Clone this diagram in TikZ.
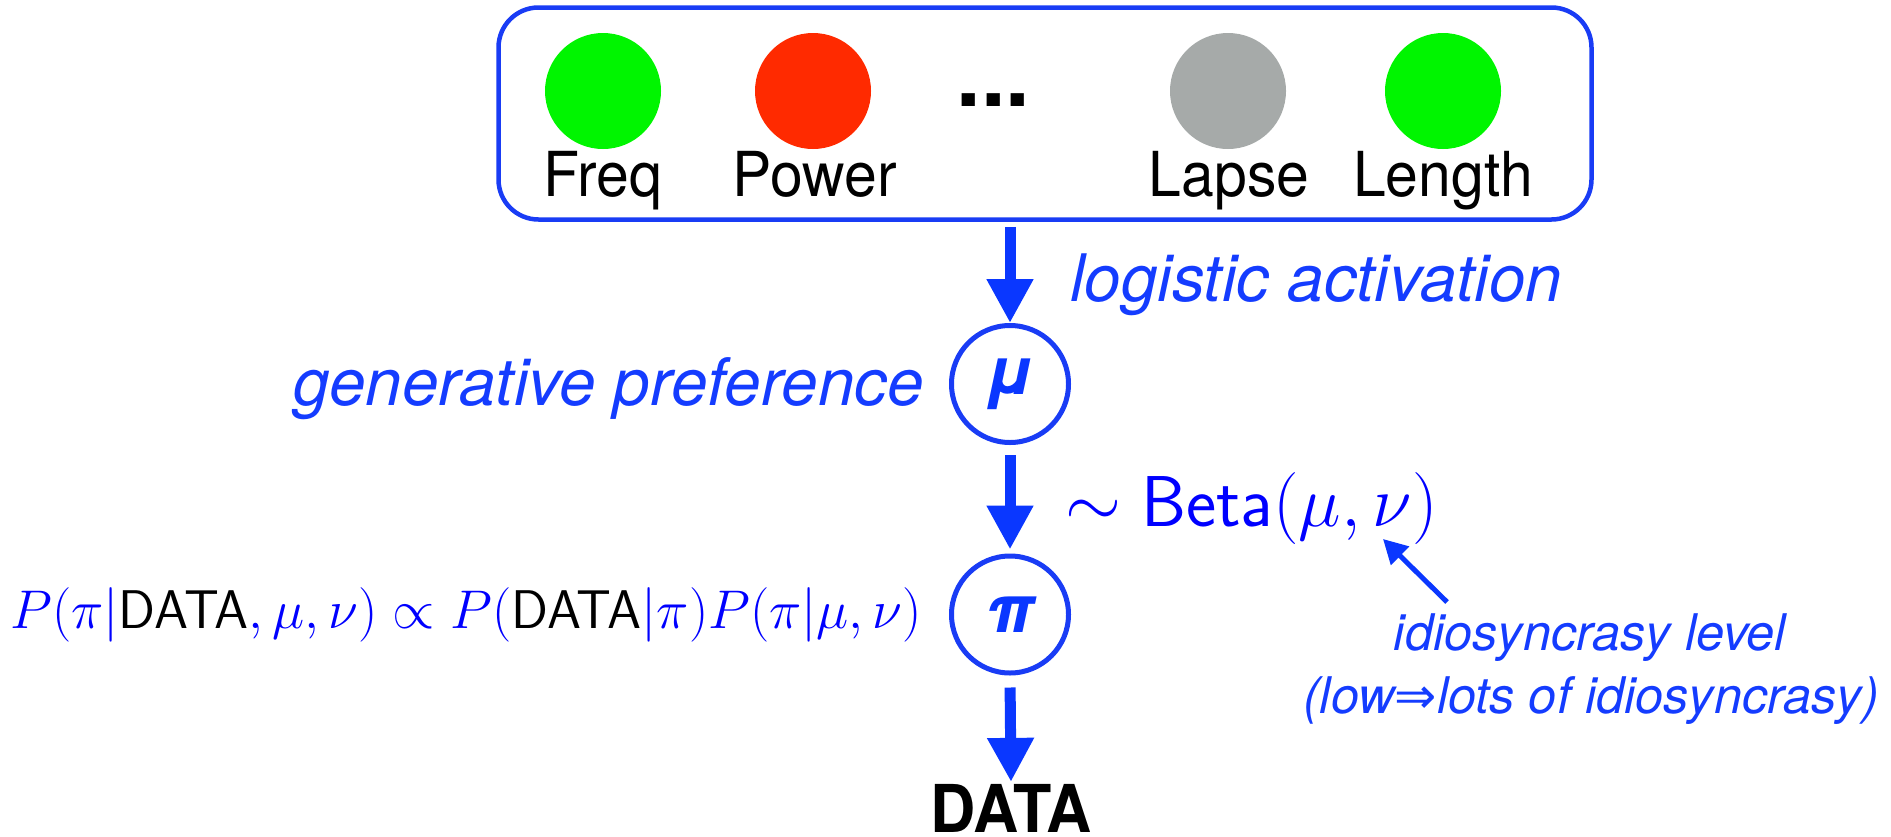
\RequirePackage{fix-cm}
\documentclass[tikz,border=0pt]{standalone}
\usepackage{fontspec}
\usetikzlibrary{arrows.meta}
\newfontfamily\helv{TeX Gyre Heros}
\newfontfamily\helvn{TeX Gyre Heros}[FakeStretch=0.95]
\newfontfamily\djv{DejaVu Sans}
\definecolor{ablue}{RGB}{10,55,255}
\definecolor{tblue}{RGB}{20,60,255}
\definecolor{mblue}{RGB}{0,0,255}
\definecolor{bblue}{RGB}{25,60,245}
\definecolor{lgreen}{RGB}{0,245,0}
\definecolor{lred}{RGB}{255,42,0}
\definecolor{lgray}{RGB}{166,170,169}
\tikzset{
  lamp/.style={circle, minimum size=116pt, inner sep=0pt},
  lamplbl/.style={anchor=base, inner sep=0pt, font=\helvn\fontsize{62}{62}\selectfont},
  varnode/.style={circle, draw=bblue, line width=5pt, minimum size=117pt, inner sep=0pt, text=ablue,
    font=\helv\bfseries\itshape\fontsize{66}{66}\selectfont},
  bigarrow/.style={draw=ablue, line width=11pt, -{Triangle[width=44pt,length=44pt]}},
  smallarrow/.style={draw=ablue, line width=5pt, -{Triangle[width=25pt,length=24pt]}},
  itlbl/.style={inner sep=0pt, text=tblue, font=\helv\itshape\fontsize{65.5}{65.5}\selectfont},
  smlbl/.style={inner sep=0pt, anchor=base, text=tblue, font=\helv\itshape\fontsize{50.5}{50.5}\selectfont},
}
\begin{document}
\begin{tikzpicture}[x=1pt,y=-1pt]
\useasboundingbox (0,0) rectangle (1891,836);
% container
\node[draw=bblue, line width=4.5pt, rounded corners=40pt, minimum width=1093pt, minimum height=212pt, inner sep=0pt] (box) at (1045,113.5) {};
% lamps
\node[lamp, fill=lgreen] (freq) at (603,91) {};
\node[lamp, fill=lred] (power) at (813,91) {};
\node[lamp, fill=lgray] (lapse) at (1228,91) {};
\node[lamp, fill=lgreen] (length) at (1443,91) {};
\node[lamplbl] (freqlbl) at (603,196) {Freq};
\node[lamplbl] (powerlbl) at (815,196) {Power};
\node[lamplbl] (lapselbl) at (1229,196) {Lapse};
\node[lamplbl] (lengthlbl) at (1443,196) {Length};
\node[anchor=base, inner sep=0pt, font=\helv\bfseries\fontsize{88}{88}\selectfont] (dots) at (993.5,106) {...};
% variables
\node[varnode] (mu) at (1010,384) {μ};
\node[varnode] (pi) at (1010,614.5) {π};
\node[anchor=base, inner sep=0pt, outer sep=0pt, text depth=0pt, font=\helvn\bfseries\fontsize{66}{66}\selectfont] (data) at (1011,832) {DATA};
% arrows
\draw[bigarrow, shorten <=5pt] (mu |- box.south) -- (mu.north);
\draw[bigarrow, shorten <=10pt, shorten >=4pt] (mu.south) -- (pi.north);
\draw[bigarrow, shorten <=12pt, shorten >=2pt] (pi.south) -- (data.north);
% labels
\node[itlbl, anchor=base west] (logi) at (1070,301) {logistic activation};
\node[itlbl, anchor=base east] (gen) at (924,405) {generative preference};
\node[anchor=base west, inner sep=0pt, text=mblue, font=\fontsize{72}{72}\selectfont] (beta) at (1065,526) {$\sim\textsf{Beta}(\mu,\nu)$};
\node[anchor=base west, inner sep=0pt, text=mblue, font=\fontsize{54.5}{54.5}\selectfont] (post) at (10,628)
  {$P(\pi|\textcolor{black}{\textsf{DATA}},\mu,\nu)\propto P(\textcolor{black}{\textsf{DATA}}|\pi)P(\pi|\mu,\nu)$};
\node[smlbl] (idio1) at (1590,650) {idiosyncrasy level};
\node[smlbl] (idio2) at (1591,713) {(low{\djv\itshape ⇒}lots of idiosyncrasy)};
\coordinate (nutail) at (1447,602);
\coordinate (nutip) at (1383,539);
\draw[smallarrow] (nutail) -- (nutip);
\end{tikzpicture}
\end{document}
